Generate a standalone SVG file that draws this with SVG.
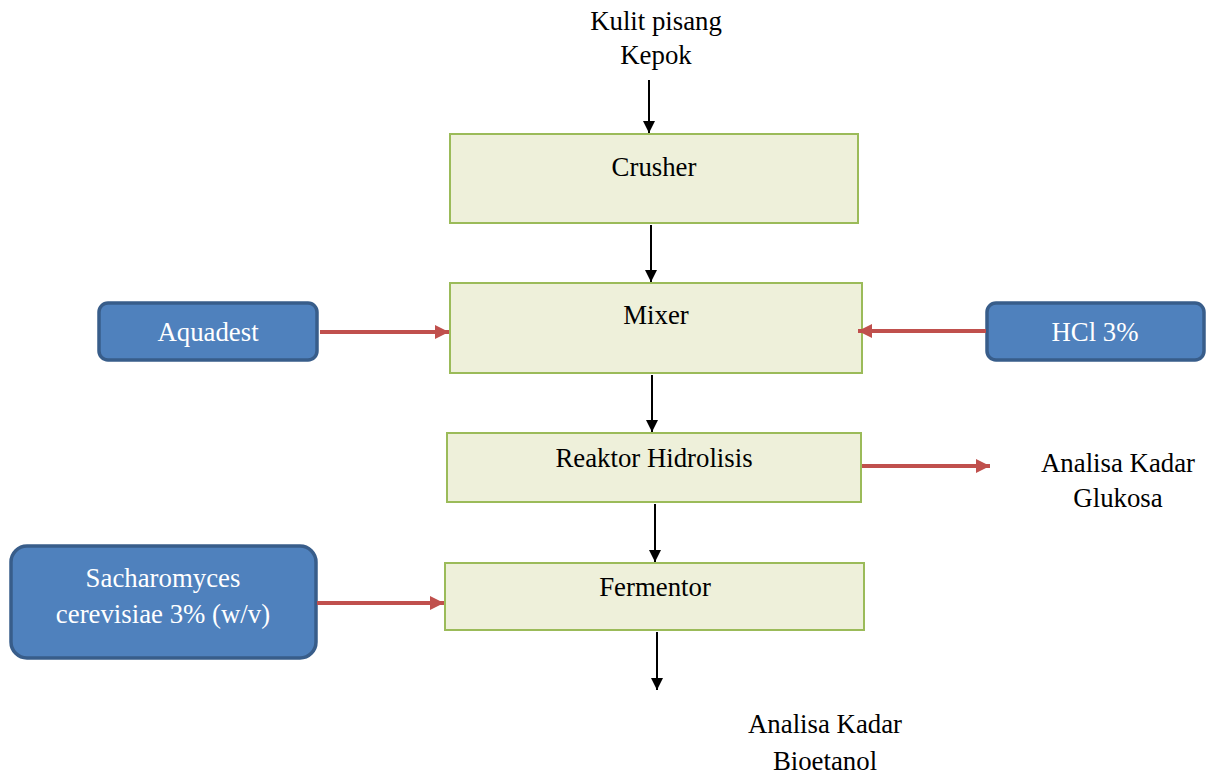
<svg xmlns="http://www.w3.org/2000/svg" width="1208" height="776" viewBox="0 0 1208 776" font-family="'Liberation Serif', 'Times New Roman', 'DejaVu Serif', serif">
<style>
text{font-family:'Liberation Serif','Times New Roman','DejaVu Serif',serif;font-size:26.8px;fill:#000;text-anchor:middle}
.proc{fill:#eef0da;stroke:#9bbb59;stroke-width:2}
.inp{fill:#4f81bd;stroke:#385d8a;stroke-width:3.5}
.w{fill:#fff}
.blk{stroke:#000;stroke-width:2;fill:none}
.red{stroke:#c0504d;stroke-width:4;fill:none}
</style>
<defs>
<marker id="ab" viewBox="0 0 10 10" refX="10" refY="5" markerWidth="12" markerHeight="12" markerUnits="userSpaceOnUse" orient="auto"><path d="M0,0L10,5L0,10z" fill="#000"/></marker>
<marker id="ar" viewBox="0 0 10 10" refX="10" refY="5" markerWidth="14" markerHeight="14" markerUnits="userSpaceOnUse" orient="auto"><path d="M0,0L10,5L0,10z" fill="#c0504d"/></marker>
</defs>
<rect width="1208" height="776" fill="#fff"/>
<g id="src"><text x="656" y="30">Kulit pisang</text><text x="656" y="64">Kepok</text></g>
<g id="crusher"><rect class="proc" x="450" y="134" width="408" height="89"/><text x="654" y="176">Crusher</text></g>
<g id="mixer"><rect class="proc" x="450" y="283" width="412" height="90"/><text x="656" y="324">Mixer</text></g>
<g id="reaktor"><rect class="proc" x="447" y="433" width="414" height="69"/><text x="654" y="467">Reaktor Hidrolisis</text></g>
<g id="fermentor"><rect class="proc" x="445" y="563" width="419" height="67"/><text x="655" y="596">Fermentor</text></g>
<g id="aquadest"><rect class="inp" x="99" y="303" width="218" height="57" rx="9"/><text class="w" x="208" y="341">Aquadest</text></g>
<g id="hcl"><rect class="inp" x="987" y="303" width="217" height="57" rx="9"/><text class="w" x="1095" y="341">HCl 3%</text></g>
<g id="sach"><rect class="inp" x="11" y="546" width="305" height="112" rx="16"/><text class="w" x="163" y="587">Sacharomyces</text><text class="w" x="163" y="623">cerevisiae 3% (w/v)</text></g>
<g id="glukosa"><text x="1118" y="472">Analisa Kadar</text><text x="1118" y="507">Glukosa</text></g>
<g id="bioetanol"><text x="825" y="733">Analisa Kadar</text><text x="825" y="770">Bioetanol</text></g>
<g id="connectors">
<line class="blk" x1="649" y1="80" x2="649" y2="133" marker-end="url(#ab)"/>
<line class="blk" x1="651" y1="225" x2="651" y2="282" marker-end="url(#ab)"/>
<line class="blk" x1="652" y1="375" x2="652" y2="432" marker-end="url(#ab)"/>
<line class="blk" x1="655" y1="504" x2="655" y2="562" marker-end="url(#ab)"/>
<line class="blk" x1="657" y1="632" x2="657" y2="690" marker-end="url(#ab)"/>
<line class="red" x1="320" y1="332" x2="449" y2="332" marker-end="url(#ar)"/>
<line class="red" x1="986" y1="331" x2="858" y2="331" marker-end="url(#ar)"/>
<line class="red" x1="862" y1="466" x2="990" y2="466" marker-end="url(#ar)"/>
<line class="red" x1="317" y1="603" x2="444" y2="603" marker-end="url(#ar)"/>
</g>
</svg>
